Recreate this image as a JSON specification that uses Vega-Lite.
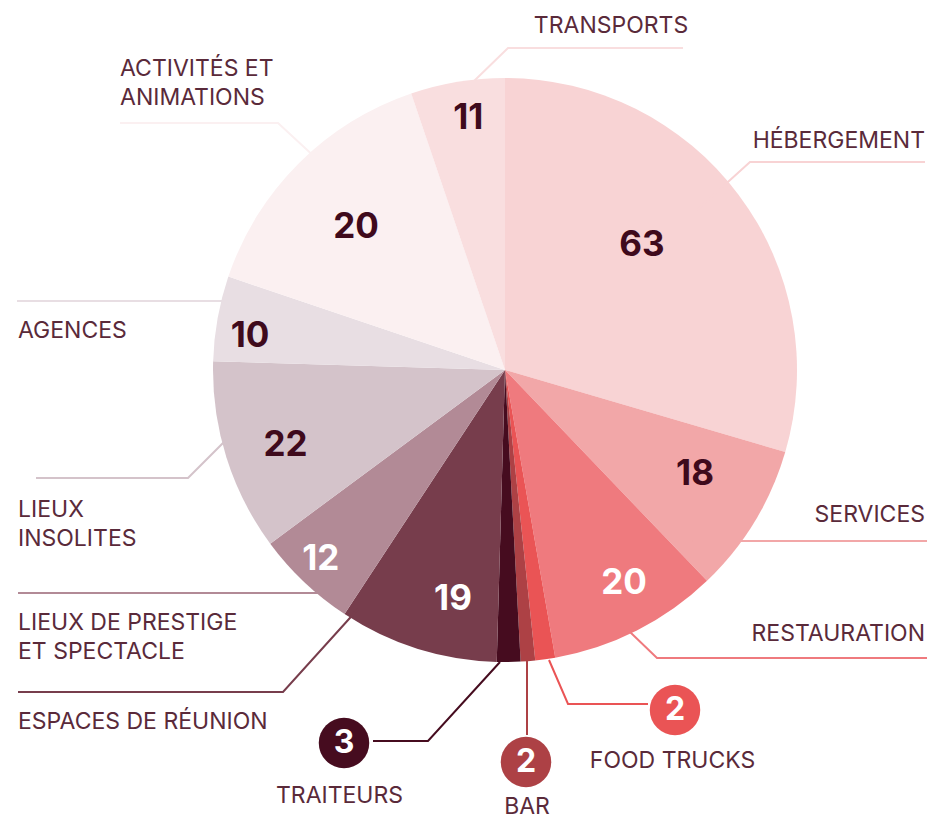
{
  "$schema": "https://vega.github.io/schema/vega-lite/v6.json",
  "width": 927,
  "height": 820,
  "autosize": {"type": "none"},
  "padding": 0,
  "background": "white",
  "config": {"view": {"stroke": null}, "font": "Inter"},
  "datasets": {
    "slices": [
      {"category": "Hébergement", "value": 63, "share": 29.5},
      {"category": "Services", "value": 18, "share": 8.3},
      {"category": "Restauration", "value": 20, "share": 9.4},
      {"category": "Food trucks", "value": 2, "share": 1.1},
      {"category": "Bar", "value": 2, "share": 0.8},
      {"category": "Traiteurs", "value": 3, "share": 1.3},
      {"category": "Espaces de réunion", "value": 19, "share": 8.8},
      {"category": "Lieux de prestige et spectacle", "value": 12, "share": 5.6},
      {"category": "Lieux insolites", "value": 22, "share": 10.6},
      {"category": "Agences", "value": 10, "share": 4.7},
      {"category": "Activités et animations", "value": 20, "share": 14.6},
      {"category": "Transports", "value": 11, "share": 5.2}
    ],
    "annotations": [
      {"category": "Hébergement", "label": "HÉBERGEMENT", "lx": 143.84, "ly": 78.42, "vx": 46.92, "vy": 42.81},
      {"category": "Services", "label": "SERVICES", "lx": 143.84, "ly": -49.66, "vx": 65.07, "vy": -35.62},
      {"category": "Restauration", "label": "RESTAURATION", "lx": 143.84, "ly": -90.41, "vx": 40.75, "vy": -72.95},
      {"category": "Food trucks", "label": "FOOD TRUCKS", "lx": 57.36, "ly": -133.9, "vx": 58.22, "vy": -116.44},
      {"category": "Bar", "label": "BAR", "lx": 7.53, "ly": -149.66, "vx": 7.19, "vy": -134.25},
      {"category": "Traiteurs", "label": "TRAITEURS", "lx": -56.68, "ly": -145.72, "vx": -55.14, "vy": -127.74},
      {"category": "Espaces de réunion", "label": "ESPACES DE RÉUNION", "lx": -166.78, "ly": -120.38, "vx": -17.81, "vy": -78.32},
      {"category": "Lieux de prestige et spectacle", "label": "LIEUX DE PRESTIGE\nET SPECTACLE", "lx": -166.78, "ly": -86.64, "vx": -63.12, "vy": -64.73},
      {"category": "Lieux insolites", "label": "LIEUX\nINSOLITES", "lx": -166.78, "ly": -47.95, "vx": -75.17, "vy": -25.79},
      {"category": "Agences", "label": "AGENCES", "lx": -166.78, "ly": 13.25, "vx": -87.33, "vy": 11.64},
      {"category": "Activités et animations", "label": "ACTIVITÉS ET\nANIMATIONS", "lx": -131.85, "ly": 103.01, "vx": -51.03, "vy": 48.9},
      {"category": "Transports", "label": "TRANSPORTS", "lx": 36.3, "ly": 117.81, "vx": -12.57, "vy": 86.19}
    ],
    "leaders": [
      {"category": "Transports", "seq": 1, "lx": -10.96, "ly": 98.63},
      {"category": "Transports", "seq": 2, "lx": 1.03, "ly": 110.27},
      {"category": "Transports", "seq": 3, "lx": 60.96, "ly": 110.27},
      {"category": "Hébergement", "seq": 1, "lx": 65.75, "ly": 54.79},
      {"category": "Hébergement", "seq": 2, "lx": 83.9, "ly": 71.23},
      {"category": "Hébergement", "seq": 3, "lx": 143.84, "ly": 71.23},
      {"category": "Services", "seq": 1, "lx": 64.38, "ly": -58.56},
      {"category": "Services", "seq": 2, "lx": 144.52, "ly": -58.56},
      {"category": "Restauration", "seq": 1, "lx": 42.81, "ly": -89.73},
      {"category": "Restauration", "seq": 2, "lx": 52.05, "ly": -98.63},
      {"category": "Restauration", "seq": 3, "lx": 144.52, "ly": -98.63},
      {"category": "Food trucks", "seq": 1, "lx": 15.07, "ly": -99.32},
      {"category": "Food trucks", "seq": 2, "lx": 21.58, "ly": -114.38},
      {"category": "Food trucks", "seq": 3, "lx": 48.97, "ly": -114.38},
      {"category": "Bar", "seq": 1, "lx": 7.53, "ly": -99.66},
      {"category": "Bar", "seq": 2, "lx": 7.53, "ly": -125.0},
      {"category": "Traiteurs", "seq": 1, "lx": -1.71, "ly": -100.0},
      {"category": "Traiteurs", "seq": 2, "lx": -26.37, "ly": -127.05},
      {"category": "Traiteurs", "seq": 3, "lx": -45.21, "ly": -127.05},
      {"category": "Espaces de réunion", "seq": 1, "lx": -50.34, "ly": -81.85},
      {"category": "Espaces de réunion", "seq": 2, "lx": -76.03, "ly": -110.27},
      {"category": "Espaces de réunion", "seq": 3, "lx": -166.78, "ly": -110.27},
      {"category": "Lieux de prestige et spectacle", "seq": 1, "lx": -58.9, "ly": -76.37},
      {"category": "Lieux de prestige et spectacle", "seq": 2, "lx": -166.78, "ly": -76.37},
      {"category": "Lieux insolites", "seq": 1, "lx": -95.55, "ly": -23.97},
      {"category": "Lieux insolites", "seq": 2, "lx": -108.56, "ly": -36.99},
      {"category": "Lieux insolites", "seq": 3, "lx": -160.62, "ly": -36.99},
      {"category": "Agences", "seq": 1, "lx": -95.21, "ly": 23.63},
      {"category": "Agences", "seq": 2, "lx": -167.12, "ly": 23.63},
      {"category": "Activités et animations", "seq": 1, "lx": -64.04, "ly": 71.92},
      {"category": "Activités et animations", "seq": 2, "lx": -77.74, "ly": 84.59},
      {"category": "Activités et animations", "seq": 3, "lx": -131.85, "ly": 84.59}
    ]
  },
  "layer": [
    {
      "data": {"name": "slices"},
      "transform": [{"window": [{"op": "row_number", "as": "idx"}]}],
      "mark": {"type": "arc", "outerRadius": 292},
      "encoding": {
        "x": {"datum": 0, "type": "quantitative", "scale": {"domain": [-172.95, 144.52], "nice": false, "zero": false}, "axis": null},
        "y": {"datum": 0, "type": "quantitative", "scale": {"domain": [-154.11, 126.71], "nice": false, "zero": false}, "axis": null},
        "theta": {"field": "share", "type": "quantitative", "stack": true},
        "order": {"field": "idx", "type": "quantitative"},
        "color": {
          "field": "category", "type": "nominal", "legend": null,
          "scale": {
            "domain": ["Hébergement", "Services", "Restauration", "Food trucks", "Bar", "Traiteurs", "Espaces de réunion", "Lieux de prestige et spectacle", "Lieux insolites", "Agences", "Activités et animations", "Transports"],
            "range": ["#f8d3d4", "#f2a7a8", "#ef7a7e", "#ea5455", "#ad4145", "#460c1f", "#773d4c", "#b28a96", "#d4c3ca", "#e8dee3", "#fbf0f1", "#f9dedf"]
          }
        }
      }
    },
    {
      "data": {"name": "leaders"},
      "mark": {"type": "line", "strokeWidth": 2},
      "encoding": {
        "x": {"field": "lx", "type": "quantitative", "scale": {"domain": [-172.95, 144.52], "nice": false, "zero": false}, "axis": null},
        "y": {"field": "ly", "type": "quantitative", "scale": {"domain": [-154.11, 126.71], "nice": false, "zero": false}, "axis": null},
        "order": {"field": "seq", "type": "quantitative"},
        "color": {"field": "category", "type": "nominal", "legend": null}
      }
    },
    {
      "data": {"name": "annotations"},
      "transform": [
        {"lookup": "category", "from": {"data": {"name": "slices"}, "key": "category", "fields": ["value"]}},
        {"filter": "datum.value < 10"}
      ],
      "mark": {"type": "point", "shape": "circle", "filled": true, "opacity": 1, "size": 2550},
      "encoding": {
        "x": {"field": "vx", "type": "quantitative", "axis": null},
        "y": {"field": "vy", "type": "quantitative", "axis": null},
        "color": {"field": "category", "type": "nominal", "legend": null}
      }
    },
    {
      "data": {"name": "annotations"},
      "transform": [
        {"lookup": "category", "from": {"data": {"name": "slices"}, "key": "category", "fields": ["value"]}},
        {"filter": "datum.value >= 10"}
      ],
      "mark": {"type": "text", "fontSize": 35, "fontWeight": 700, "baseline": "middle", "align": "center"},
      "encoding": {
        "x": {"field": "vx", "type": "quantitative", "axis": null},
        "y": {"field": "vy", "type": "quantitative", "axis": null},
        "text": {"field": "value", "type": "quantitative"},
        "color": {
          "condition": {"test": "indexof(['Restauration', 'Espaces de réunion', 'Lieux de prestige et spectacle'], datum.category) >= 0", "value": "#ffffff"},
          "value": "#3f0a1c"
        }
      }
    },
    {
      "data": {"name": "annotations"},
      "transform": [
        {"lookup": "category", "from": {"data": {"name": "slices"}, "key": "category", "fields": ["value"]}},
        {"filter": "datum.value < 10"}
      ],
      "mark": {"type": "text", "fontSize": 32, "fontWeight": 700, "baseline": "middle", "align": "center", "color": "#ffffff"},
      "encoding": {
        "x": {"field": "vx", "type": "quantitative", "axis": null},
        "y": {"field": "vy", "type": "quantitative", "axis": null},
        "text": {"field": "value", "type": "quantitative"}
      }
    },
    {
      "data": {"name": "annotations"},
      "transform": [{"filter": "datum.lx < -100"}],
      "mark": {"type": "text", "fontSize": 23, "baseline": "middle", "align": "left", "lineBreak": "\n", "lineHeight": 29, "color": "#5a2a3a"},
      "encoding": {
        "x": {"field": "lx", "type": "quantitative", "axis": null},
        "y": {"field": "ly", "type": "quantitative", "axis": null},
        "text": {"field": "label"}
      }
    },
    {
      "data": {"name": "annotations"},
      "transform": [{"filter": "datum.lx > 140"}],
      "mark": {"type": "text", "fontSize": 23, "baseline": "middle", "align": "right", "lineBreak": "\n", "lineHeight": 29, "color": "#5a2a3a"},
      "encoding": {
        "x": {"field": "lx", "type": "quantitative", "axis": null},
        "y": {"field": "ly", "type": "quantitative", "axis": null},
        "text": {"field": "label"}
      }
    },
    {
      "data": {"name": "annotations"},
      "transform": [{"filter": "datum.lx >= -100 && datum.lx <= 140"}],
      "mark": {"type": "text", "fontSize": 23, "baseline": "middle", "align": "center", "lineBreak": "\n", "lineHeight": 29, "color": "#5a2a3a"},
      "encoding": {
        "x": {"field": "lx", "type": "quantitative", "axis": null},
        "y": {"field": "ly", "type": "quantitative", "axis": null},
        "text": {"field": "label"}
      }
    }
  ]
}
